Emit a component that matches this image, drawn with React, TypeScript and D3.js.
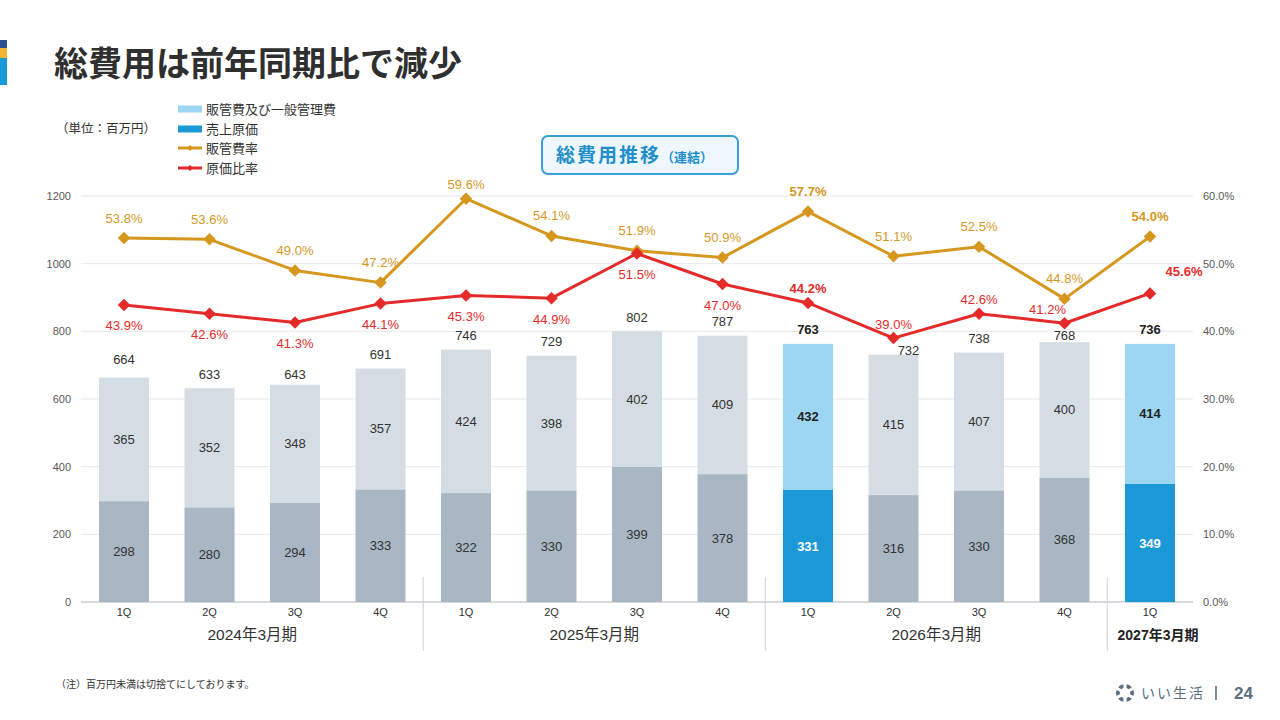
import React from "react";
import * as d3 from "d3";

const quarters = ["1Q", "2Q", "3Q", "4Q", "1Q", "2Q", "3Q", "4Q", "1Q", "2Q", "3Q", "4Q", "1Q"];
const fiscalYears = ["2024年3月期", "2025年3月期", "2026年3月期", "2027年3月期"];
const fiscalYearCounts = [4, 4, 4, 1];
const costOfSales = [298, 280, 294, 333, 322, 330, 399, 378, 331, 316, 330, 368, 349];
const sgaExpenses = [365, 352, 348, 357, 424, 398, 402, 409, 432, 415, 407, 400, 414];
const totalLabels = [664, 633, 643, 691, 746, 729, 802, 787, 763, 732, 738, 768, 736];
const sgaRatio = [53.8, 53.6, 49.0, 47.2, 59.6, 54.1, 51.9, 50.9, 57.7, 51.1, 52.5, 44.8, 54.0];
const costRatio = [43.9, 42.6, 41.3, 44.1, 45.3, 44.9, 51.5, 47.0, 44.2, 39.0, 42.6, 41.2, 45.6];
const highlighted = [8, 12];
const leftTicks = [0, 200, 400, 600, 800, 1000, 1200];
const rightTicks = [0, 10, 20, 30, 40, 50, 60];
const legendLabels = ["販管費及び一般管理費", "売上原価", "販管費率", "原価比率"];

const C = {
  sgaGray: "#d5dde4",
  costGray: "#a9b6c3",
  sgaBlue: "#9dd6f3",
  costBlue: "#1b98d6",
  orange: "#d6971f",
  red: "#e52a2a",
  grid: "#e6e8eb",
  text: "#333333",
  tick: "#595959",
};

const FONT = "'Liberation Sans', Arial, 'Noto Sans CJK JP', sans-serif";
const JP = "'Noto Sans CJK JP', 'Liberation Sans', sans-serif";

// label nudges (layout only)
const totalNudge: Record<number, [number, number]> = { 0: [0, -4], 2: [0, 4], 9: [15, 10], 11: [0, 7] };
const costNudge: Record<number, [number, number]> = { 11: [-17, 0], 12: [34, -8] };
const sgaNudge: Record<number, [number, number]> = { 4: [0, 6] };

export default function App() {
  const W = 1280;
  const H = 720;
  const n = quarters.length;
  const x = d3
    .scaleBand<number>()
    .domain(d3.range(n))
    .range([81.25, 1192.75])
    .paddingInner(0.415)
    .paddingOuter(0.2075);
  const yL = d3.scaleLinear().domain([0, 1200]).range([602, 196]);
  const yR = d3.scaleLinear().domain([0, 60]).range([602, 196]);
  const cx = (i: number) => (x(i) as number) + x.bandwidth() / 2;
  const isHi = (i: number) => highlighted.includes(i);

  const stack = d3.stack<number>().keys(["cost", "sga"]).value((i, k) => (k === "cost" ? costOfSales[i] : sgaExpenses[i]));
  const series = stack(d3.range(n));

  const line = (vals: number[]) =>
    d3
      .line<number>()
      .x((_, i) => cx(i))
      .y((v) => yR(v))(vals) as string;

  const diamond = d3.symbol().type(d3.symbolSquare).size(78)() as string;
  const legendDiamond = d3.symbol().type(d3.symbolSquare).size(18)() as string;

  // fiscal year groups
  let start = 0;
  const groups = fiscalYears.map((fy, g) => {
    const idx = d3.range(start, start + fiscalYearCounts[g]);
    start += fiscalYearCounts[g];
    return { fy, idx, center: d3.mean(idx.map(cx)) as number, last: g === fiscalYears.length - 1 };
  });
  const dividers = groups.slice(1).map((g) => (cx(g.idx[0] - 1) + cx(g.idx[0])) / 2);

  const arcGen = d3.arc<any>().innerRadius(5.2).outerRadius(9).padAngle(0.3);
  const ringPieces = d3.pie<number>().sort(null).value(1)([1, 1, 1, 1, 1, 1]);

  return (
    <div style={{ position: "absolute", left: 0, top: 0, width: W, height: H, background: "#fff" }}>
      <svg width={W} height={H} viewBox={`0 0 ${W} ${H}`} style={{ display: "block" }}>
        <rect width={W} height={H} fill="#fff" />
        {/* corner accent */}
        <rect x={0} y={40} width={7} height={8} fill="#2b4f8c" />
        <rect x={0} y={48} width={7} height={10} fill="#f1b533" />
        <rect x={0} y={58} width={7} height={27} fill="#1b98d6" />
        <text x={54} y={76} fontFamily={JP} fontWeight={700} fontSize={34} fill="#2f2f2f">
          総費用は前年同期比で減少
        </text>

        {/* unit + legend */}
        <text x={56} y={133} fontFamily={JP} fontSize={12.5} fill={C.text}>
          （単位：百万円）
        </text>
        {legendLabels.map((lab, k) => {
          const ly = [109, 129, 148, 168][k];
          return (
            <g key={k}>
              {k === 0 && <rect x={178} y={ly - 3.5} width={24} height={7} fill={C.sgaBlue} />}
              {k === 1 && <rect x={178} y={ly - 3.5} width={24} height={7} fill={C.costBlue} />}
              {k >= 2 && (
                <g>
                  <line x1={178} x2={202} y1={ly} y2={ly} stroke={k === 2 ? C.orange : C.red} strokeWidth={3} />
                  <path d={legendDiamond} transform={`translate(190,${ly}) rotate(45)`} fill={k === 2 ? C.orange : C.red} />
                </g>
              )}
              <text x={206} y={ly} dy="0.35em" fontFamily={JP} fontSize={13} fill={C.text}>
                {lab}
              </text>
            </g>
          );
        })}

        {/* chart title box */}
        <rect x={542} y={136} width={196} height={38} rx={6} fill="#edf7fd" stroke="#3a9fd3" strokeWidth={2} />
        <text x={556} y={156} dy="0.36em" fontFamily={JP} fontWeight={700} fill="#1f8fcb">
          <tspan fontSize={19} letterSpacing={2}>総費用推移</tspan>
          <tspan fontSize={13}>（連結）</tspan>
        </text>

        {/* grid */}
        {leftTicks.map((t) => (
          <line
            key={t}
            x1={81}
            x2={1193}
            y1={yL(t)}
            y2={yL(t)}
            stroke={t === 0 ? "#c9cdd2" : C.grid}
            strokeWidth={t === 0 ? 1.5 : 1}
          />
        ))}
        {leftTicks.map((t) => (
          <text key={t} x={71} y={yL(t)} dy="0.35em" textAnchor="end" fontFamily={FONT} fontSize={11} fill={C.tick}>
            {t}
          </text>
        ))}
        {rightTicks.map((t) => (
          <text key={t} x={1203} y={yR(t)} dy="0.35em" fontFamily={FONT} fontSize={11} fill={C.tick}>
            {t.toFixed(1)}%
          </text>
        ))}

        {/* bars */}
        {series.map((s) =>
          s.map((seg, i) => {
            const hi = isHi(i);
            const fill = s.key === "cost" ? (hi ? C.costBlue : C.costGray) : hi ? C.sgaBlue : C.sgaGray;
            return (
              <rect
                key={s.key + i}
                x={x(i)}
                width={x.bandwidth()}
                y={yL(seg[1])}
                height={yL(seg[0]) - yL(seg[1])}
                fill={fill}
              />
            );
          })
        )}
        {series.map((s) =>
          s.map((seg, i) => {
            const hi = isHi(i);
            const val = s.key === "cost" ? costOfSales[i] : sgaExpenses[i];
            const fill = hi ? (s.key === "cost" ? "#ffffff" : "#222") : "#333";
            return (
              <text
                key={"l" + s.key + i}
                x={cx(i)}
                y={(yL(seg[0]) + yL(seg[1])) / 2}
                dy="0.35em"
                textAnchor="middle"
                fontFamily={FONT}
                fontSize={13}
                fontWeight={hi ? 700 : 400}
                fill={fill}
              >
                {val}
              </text>
            );
          })
        )}
        {totalLabels.map((v, i) => {
          const [dx, dy] = totalNudge[i] || [0, 0];
          const top = yL(series[1][i][1]);
          return (
            <text
              key={"t" + i}
              x={cx(i) + dx}
              y={top - 14 + dy}
              dy="0.35em"
              textAnchor="middle"
              fontFamily={FONT}
              fontSize={13}
              fontWeight={isHi(i) ? 700 : 400}
              fill={isHi(i) ? "#222" : "#333"}
            >
              {v}
            </text>
          );
        })}

        {/* lines */}
        <path d={line(sgaRatio)} fill="none" stroke={C.orange} strokeWidth={3} strokeLinejoin="round" />
        <path d={line(costRatio)} fill="none" stroke={C.red} strokeWidth={3} strokeLinejoin="round" />
        {sgaRatio.map((v, i) => (
          <path key={"so" + i} d={diamond} transform={`translate(${cx(i)},${yR(v)}) rotate(45)`} fill={C.orange} />
        ))}
        {costRatio.map((v, i) => (
          <path key={"co" + i} d={diamond} transform={`translate(${cx(i)},${yR(v)}) rotate(45)`} fill={C.red} />
        ))}
        {sgaRatio.map((v, i) => {
          const [dx, dy] = sgaNudge[i] || [0, 0];
          return (
            <text
              key={"sl" + i}
              x={cx(i) + dx}
              y={yR(v) - 20 + dy}
              dy="0.35em"
              textAnchor="middle"
              fontFamily={FONT}
              fontSize={13}
              fontWeight={isHi(i) ? 700 : 400}
              fill={C.orange}
            >
              {v.toFixed(1)}%
            </text>
          );
        })}
        {costRatio.map((v, i) => {
          const [dx, dy] = costNudge[i] || [0, 0];
          const off = i < 8 ? 21 : -14;
          return (
            <text
              key={"cl" + i}
              x={cx(i) + dx}
              y={yR(v) + off + dy}
              dy="0.35em"
              textAnchor="middle"
              fontFamily={FONT}
              fontSize={13}
              fontWeight={isHi(i) ? 700 : 400}
              fill={C.red}
            >
              {v.toFixed(1)}%
            </text>
          );
        })}

        {/* x axis labels */}
        {quarters.map((q, i) => (
          <text key={"q" + i} x={cx(i)} y={612} dy="0.35em" textAnchor="middle" fontFamily={FONT} fontSize={11} fill={C.text}>
            {q}
          </text>
        ))}
        {dividers.map((dx, k) => (
          <line key={"d" + k} x1={dx} x2={dx} y1={577} y2={651} stroke="#d0d3d7" strokeWidth={1} />
        ))}
        {groups.map((g) => (
          <text
            key={g.fy}
            x={g.center + (g.last ? 8 : 0)}
            y={635}
            dy="0.35em"
            textAnchor="middle"
            fontFamily={FONT}
            fontSize={g.last ? 14 : 15.5}
            fontWeight={g.last ? 700 : 400}
            fill={g.last ? "#222" : C.text}
          >
            {g.fy}
          </text>
        ))}

        {/* footnote */}
        <text x={56} y={684} dy="0.35em" fontFamily={JP} fontSize={10} fill={C.text}>
          （注）百万円未満は切捨てにしております。
        </text>

        {/* logo */}
        <g transform="translate(1125,693)">
          {ringPieces.map((p, k) => (
            <path key={k} d={arcGen(p) as string} fill="#5b6e84" />
          ))}
        </g>
        <text x={1141} y={693} dy="0.35em" fontFamily={JP} fontSize={14} letterSpacing={2} fill="#5b6e84">
          いい生活
        </text>
        <line x1={1216} x2={1216} y1={686} y2={700} stroke="#5b6e84" strokeWidth={1.6} />
        <text x={1234} y={693} dy="0.36em" fontFamily={FONT} fontSize={17} fontWeight={700} fill="#5b6e84">
          24
        </text>
      </svg>
    </div>
  );
}
